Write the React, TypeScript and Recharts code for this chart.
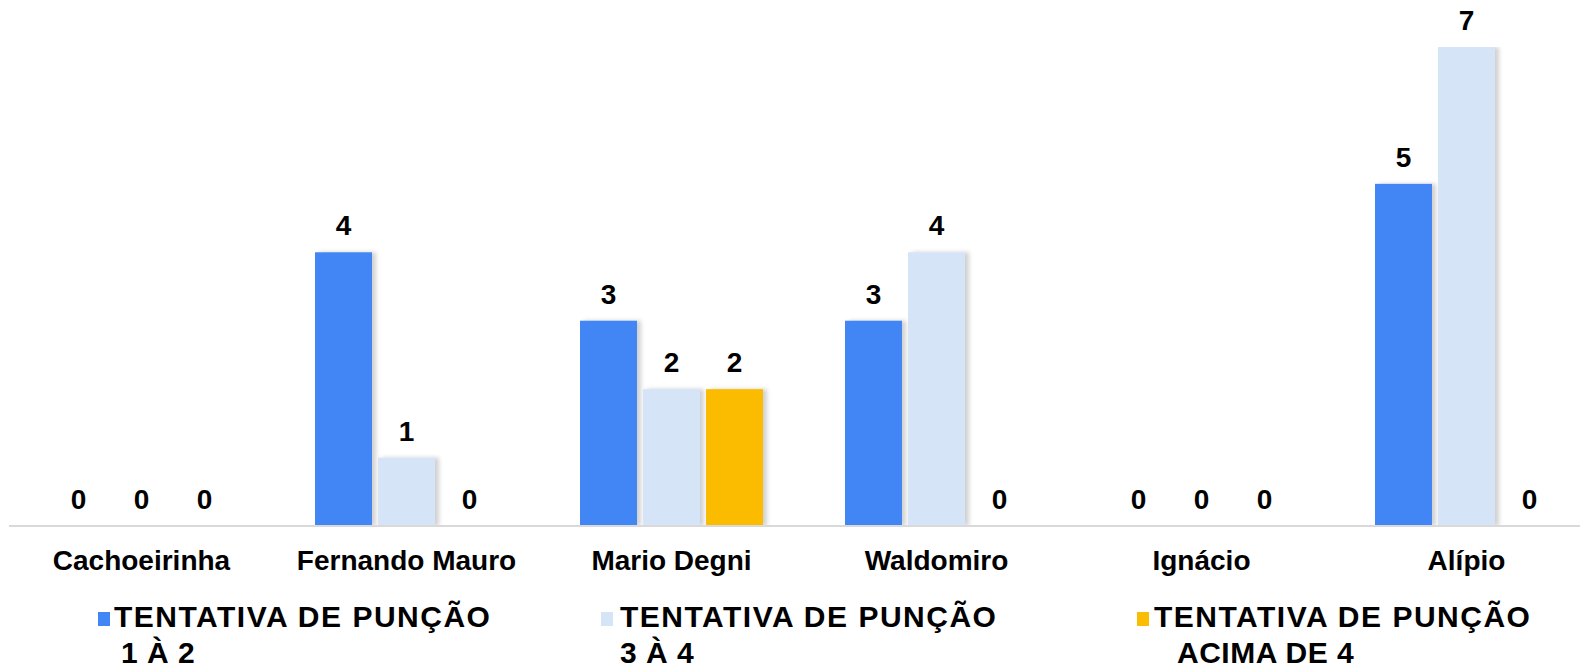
import React from 'react';
import { BarChart, Bar, XAxis, YAxis, Legend, LabelList } from 'recharts';

const categories = ['Cachoeirinha', 'Fernando Mauro', 'Mario Degni', 'Waldomiro', 'Ignácio', 'Alípio'];
const tentativa1a2 = [0, 4, 3, 3, 0, 5];
const tentativa3a4 = [0, 1, 2, 4, 0, 7];
const tentativaAcima4 = [0, 0, 2, 0, 0, 0];
const seriesNames = ['TENTATIVA DE PUNÇÃO\n1 À 2', 'TENTATIVA DE PUNÇÃO\n3 À 4', 'TENTATIVA DE PUNÇÃO\nACIMA DE 4'];
const seriesColors = ['#4285F4', '#D6E4F8', '#FBBC04'];

const data = categories.map((name, i) => ({
  name,
  s1: tentativa1a2[i],
  s2: tentativa3a4[i],
  s3: tentativaAcima4[i],
}));

const FONT = '"Liberation Sans", Arial, sans-serif';

// legend layout: square x, text x, second line indent
const legendPos = [
  { sq: 98, tx: 114, indent: 7 },
  { sq: 601, tx: 620, indent: 0 },
  { sq: 1137, tx: 1154, indent: 23 },
];

const CategoryTick = ({ x, y, payload }: any) => (
  <text x={x} y={y + 44} textAnchor="middle" fontSize={28} fontWeight="bold" fill="#000" fontFamily={FONT}>
    {payload.value}
  </text>
);

const ShadowBar = (props: any) => {
  const { x, y, width, height, fill } = props;
  if (!height || height <= 0) return null;
  return <rect x={x} y={y} width={width} height={height} fill={fill} filter="url(#barShadow)" />;
};

const LegendContent = () => (
  <svg width={1580} height={75} style={{ display: 'block' }}>
    {seriesNames.map((name, i) => {
      const [l1, l2] = name.split('\n');
      const p = legendPos[i];
      return (
        <g key={i} fontFamily={FONT} fontSize={30} fontWeight="bold" fill="#000">
          <rect x={p.sq} y={17} width={12} height={14} fill={seriesColors[i]} />
          <text x={p.tx} y={32} style={{ letterSpacing: '1.5px' }}>{l1}</text>
          <text x={p.tx + p.indent} y={68} style={{ letterSpacing: '0.5px' }}>{l2}</text>
        </g>
      );
    })}
  </svg>
);

export default function App() {
  return (
    <div style={{ position: 'absolute', left: 0, top: 0, width: 1580, height: 670, overflow: 'hidden', background: '#fff' }}>
      <BarChart
        width={1600}
        height={670}
        data={data}
        margin={{ top: 47, right: 1, left: 9, bottom: 84 }}
        barSize={57}
        barGap={6}
      >
        <defs>
          <filter id="barShadow" x="-20%" y="-5%" width="140%" height="110%">
            <feDropShadow dx={4} dy={0} stdDeviation={2} floodColor="#000" floodOpacity={0.18} />
          </filter>
        </defs>
        <XAxis
          dataKey="name"
          height={60}
          axisLine={{ stroke: '#d9d9d9', strokeWidth: 2 }}
          tickLine={false}
          tickSize={0}
          tickMargin={0}
          interval={0}
          tick={<CategoryTick />}
        />
        <YAxis hide domain={[0, 7]} allowDataOverflow />
        <Legend
          layout="horizontal"
          verticalAlign="middle"
          align="center"
          content={<LegendContent />}
          wrapperStyle={{ top: 595, left: 0, width: 1580, height: 75 }}
        />
        {['s1', 's2', 's3'].map((key, i) => (
          <Bar key={key} dataKey={key} name={seriesNames[i]} fill={seriesColors[i]} shape={<ShadowBar />} isAnimationActive={false}>
            <LabelList
              dataKey={key}
              position="top"
              offset={17}
              fill="#000"
              fontSize={28}
              fontWeight="bold"
              fontFamily={FONT}
            />
          </Bar>
        ))}
      </BarChart>
    </div>
  );
}
